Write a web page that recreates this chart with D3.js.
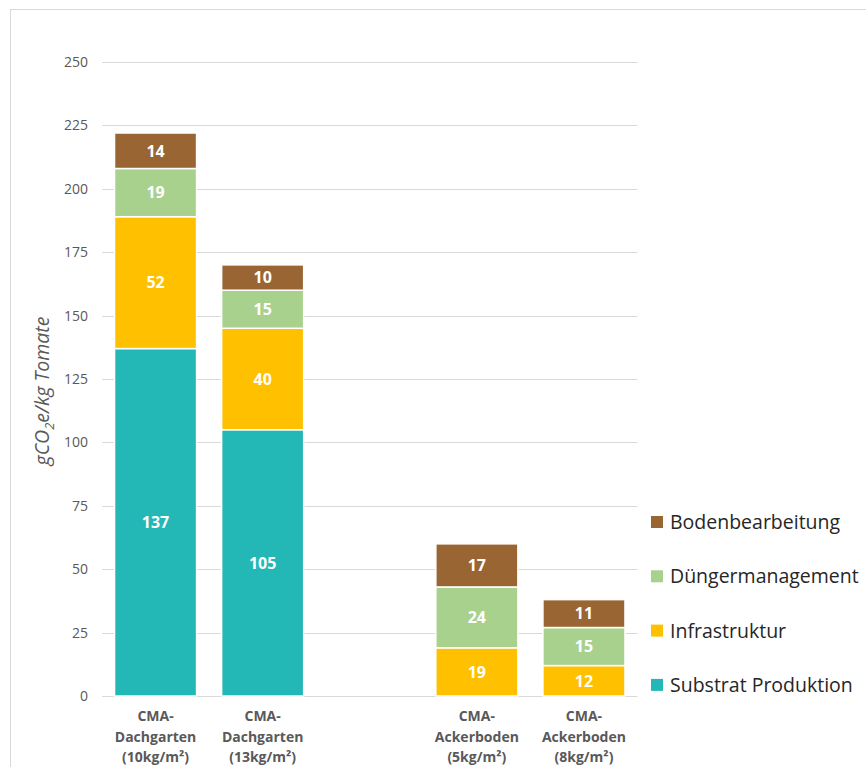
<!DOCTYPE html>
<html>
<head>
<meta charset="utf-8">
<script src="https://cdn.jsdelivr.net/npm/d3@7"></script>
<style>
  body { margin: 0; background: #fff; }
  svg { display: block; }
  text { font-family: "Open Sans", Lato, sans-serif; }
</style>
</head>
<body>
<svg id="chart" width="866" height="767"></svg>
<script>
// Categories (an empty spacer separates the two groups)
const categories = [
  ["CMA-", "Dachgarten", "(10kg/m²)"],
  ["CMA-", "Dachgarten", "(13kg/m²)"],
  [],
  ["CMA-", "Ackerboden", "(5kg/m²)"],
  ["CMA-", "Ackerboden", "(8kg/m²)"]
];
const categoryKeys = ["c1", "c2", "gap", "c3", "c4"];

// Series, stacked bottom to top
const seriesNames = ["Substrat Produktion", "Infrastruktur", "Düngermanagement", "Bodenbearbeitung"];
const substrat      = [137, 105, null, 0, 0];
const infrastruktur = [52, 40, null, 19, 12];
const duenger       = [19, 15, null, 24, 15];
const boden         = [14, 10, null, 17, 11];
const seriesColors  = ["#23B7B6", "#FFC000", "#A9D18E", "#996633"];

const yTicks = [0, 25, 50, 75, 100, 125, 150, 175, 200, 225, 250];

const svg = d3.select("#chart");

// outer frame
svg.append("rect")
  .attr("x", 10.5).attr("y", 9.5)
  .attr("width", 900).attr("height", 800)
  .attr("fill", "none").attr("stroke", "#d9d9d9").attr("stroke-width", 1);

const x = d3.scaleBand().domain(categoryKeys).range([102, 637.5]).paddingInner(0.234).paddingOuter(0.117);
const y = d3.scaleLinear().domain([0, 250]).range([696, 62]);

// gridlines
svg.append("g")
  .selectAll("line").data(yTicks).join("line")
  .attr("x1", 102).attr("x2", 637.5)
  .attr("y1", d => Math.round(y(d)) + 0.5).attr("y2", d => Math.round(y(d)) + 0.5)
  .attr("stroke", "#d9d9d9").attr("stroke-width", 1);

// y axis tick labels
const yAxis = d3.axisLeft(y).tickValues(yTicks).tickSize(0).tickPadding(14);
const gy = svg.append("g").attr("transform", "translate(102,0)").call(yAxis);
gy.select(".domain").remove();
gy.selectAll("text")
  .attr("fill", "#595959").attr("font-size", 14)
  .style("font-family", "'Open Sans', Lato, sans-serif");

// y axis title with subscript
const yt = svg.append("text")
  .attr("transform", "translate(49,391) rotate(-90)")
  .attr("text-anchor", "middle")
  .attr("font-size", 19.5).attr("font-style", "italic").attr("fill", "#595959");
yt.append("tspan").text("gCO");
yt.append("tspan").attr("font-size", 13).attr("dy", 5).text("2");
yt.append("tspan").attr("dy", -5).text("e/kg Tomate");

// stacked bars
const rows = categoryKeys.map((k, i) => ({
  key: k,
  "Substrat Produktion": substrat[i] || 0,
  "Infrastruktur": infrastruktur[i] || 0,
  "Düngermanagement": duenger[i] || 0,
  "Bodenbearbeitung": boden[i] || 0
}));
const stack = d3.stack().keys(seriesNames)(rows);

const layers = svg.append("g").selectAll("g").data(stack).join("g")
  .attr("fill", (d, i) => seriesColors[i]);

layers.selectAll("rect")
  .data(d => d.filter(s => s[1] - s[0] > 0))
  .join("rect")
  .attr("x", d => x(d.data.key))
  .attr("width", x.bandwidth())
  .attr("y", d => y(d[1]))
  .attr("height", d => y(d[0]) - y(d[1]))
  .attr("stroke", "#fff").attr("stroke-width", 1.5);

layers.selectAll("text")
  .data(d => d.filter(s => s[1] - s[0] > 0))
  .join("text")
  .attr("x", d => x(d.data.key) + x.bandwidth() / 2)
  .attr("y", d => (y(d[0]) + y(d[1])) / 2)
  .attr("dy", "0.36em")
  .attr("text-anchor", "middle")
  .attr("fill", "#fff").attr("font-weight", "bold").attr("font-size", 16)
  .text(d => d[1] - d[0]);

// category labels
const cl = svg.append("g").selectAll("text").data(categoryKeys).join("text")
  .attr("text-anchor", "middle")
  .attr("font-size", 14).attr("font-weight", "bold").attr("fill", "#595959");
cl.each(function(k, i) {
  const t = d3.select(this);
  categories[i].forEach((line, j) => {
    t.append("tspan")
      .attr("x", x(k) + x.bandwidth() / 2)
      .attr("y", 721 + j * 20.5)
      .text(line);
  });
});

// legend, top entry is the top of the stack
const legendItems = seriesNames.slice().reverse();
const legendColors = seriesColors.slice().reverse();
const lg = svg.append("g").selectAll("g").data(legendItems).join("g")
  .attr("transform", (d, i) => `translate(651,${522 + i * 54.3})`);
lg.append("rect").attr("x", 0).attr("y", -6).attr("width", 12).attr("height", 12)
  .attr("fill", (d, i) => legendColors[i]);
lg.append("text").attr("x", 19).attr("y", 0).attr("dy", "0.36em")
  .attr("font-size", 19.5).attr("fill", "#262626")
  .text(d => d);
</script>
</body>
</html>
